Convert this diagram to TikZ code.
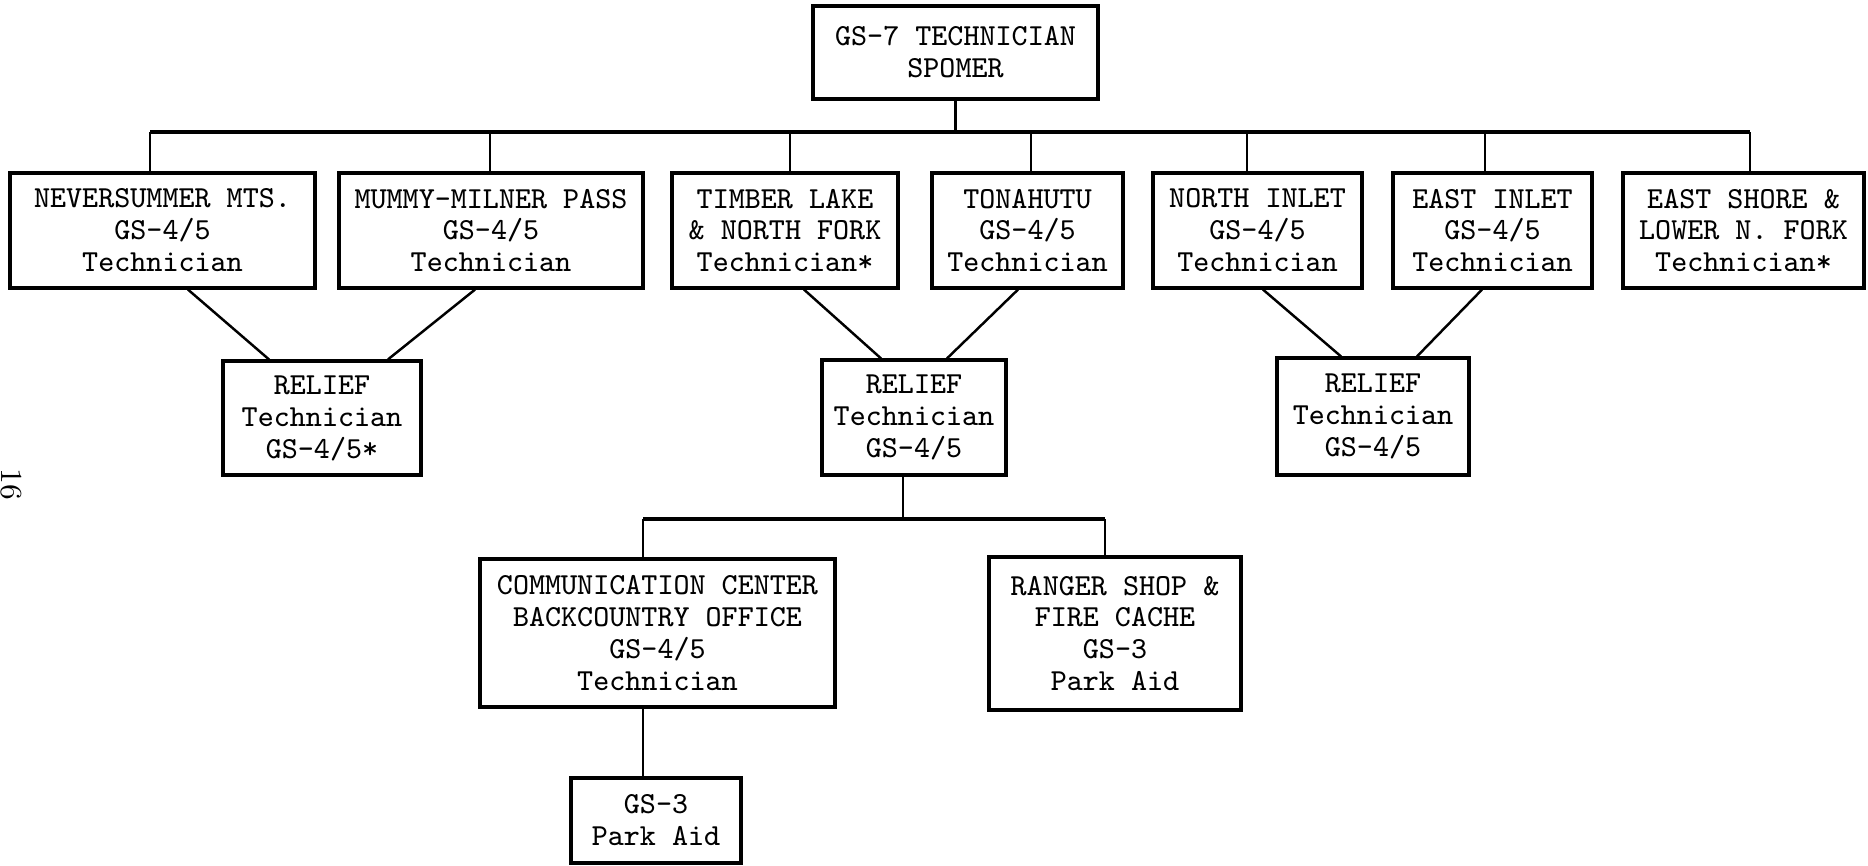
\documentclass[tikz,border=0pt]{standalone}
\usepackage{tikz}

\tikzset{
  post/.style={draw=black, line width=0.9pt, rectangle, inner sep=0pt, align=center,
    font=\ttfamily\fontsize{8.7pt}{9.1pt}\selectfont},
  bus/.style={black, line width=1.1pt},
  tie/.style={black, line width=0.7pt}
}

\begin{document}
\begin{tikzpicture} [scale = 1]
\useasboundingbox (0, 0) rectangle (18.68, 8.65);
\node[post, minimum width=2.85cm, minimum height=0.93cm] (spomer) at (9.555, 8.125){GS-7 TECHNICIAN\\SPOMER};
\node[post, minimum width=3.05cm, minimum height=1.15cm] (nev) at (1.625, 6.345){NEVERSUMMER MTS.\\GS-4/5\\Technician};
\node[post, minimum width=3.04cm, minimum height=1.15cm] (mmp) at (4.91, 6.345){MUMMY-MILNER PASS\\GS-4/5\\Technician};
\node[post, minimum width=2.26cm, minimum height=1.15cm] (tim) at (7.85, 6.345){TIMBER LAKE\\\& NORTH FORK\\Technician*};
\node[post, minimum width=1.91cm, minimum height=1.15cm] (ton) at (10.275, 6.345){TONAHUTU\\GS-4/5\\Technician};
\node[post, minimum width=2.09cm, minimum height=1.15cm] (nin) at (12.575, 6.345){NORTH INLET\\GS-4/5\\Technician};
\node[post, minimum width=1.99cm, minimum height=1.15cm] (ein) at (14.925, 6.345){EAST INLET\\GS-4/5\\Technician};
\node[post, minimum width=2.41cm, minimum height=1.15cm] (esh) at (17.435, 6.345){EAST SHORE \&\\LOWER N. FORK\\Technician*};
\node[post, minimum width=1.98cm, minimum height=1.14cm] (rlfa) at (3.22, 4.47){RELIEF\\Technician\\GS-4/5*};
\node[post, minimum width=1.84cm, minimum height=1.15cm] (rlfb) at (9.14, 4.475){RELIEF\\Technician\\GS-4/5};
\node[post, minimum width=1.92cm, minimum height=1.17cm] (rlfc) at (13.73, 4.485){RELIEF\\Technician\\GS-4/5};
\node[post, minimum width=3.55cm, minimum height=1.48cm] (comm) at (6.575, 2.32){COMMUNICATION CENTER\\BACKCOUNTRY OFFICE\\GS-4/5\\Technician};
\node[post, minimum width=2.52cm, minimum height=1.53cm] (shop) at (11.15, 2.315){RANGER SHOP \&\\FIRE CACHE\\GS-3\\Park Aid};
\node[post, minimum width=1.70cm, minimum height=0.85cm] (aid) at (6.56, 0.445){GS-3\\Park Aid};
\node[rotate=-90, inner sep=0pt, font=\fontsize{8.7pt}{9.1pt}\selectfont] (pgno) at (0.11, 3.81){16};
\coordinate (t1) at (1.50, 7.33);
\coordinate (t2) at (4.90, 7.33);
\coordinate (t3) at (7.90, 7.33);
\coordinate (t4) at (10.31, 7.33);
\coordinate (t5) at (12.47, 7.33);
\coordinate (t6) at (14.85, 7.33);
\coordinate (t7) at (17.50, 7.33);
\coordinate (ua) at (6.43, 3.46);
\coordinate (uc) at (9.03, 3.46);
\coordinate (ub) at (11.05, 3.46);
\draw[bus] (t1) -- (t7);
\draw[tie] (spomer.south) -- (spomer.south |- t1);
\foreach \b/\t in {nev/t1, mmp/t2, tim/t3, ton/t4, nin/t5, ein/t6, esh/t7}
  \draw[tie] (\t) -- (\t |- \b.north);
\draw[tie] ([xshift=2.55mm]nev.south) -- ([xshift=-5.3mm]rlfa.north);
\draw[tie] ([xshift=-1.6mm]mmp.south) -- ([xshift=6.6mm]rlfa.north);
\draw[tie] ([xshift=1.9mm]tim.south) -- ([xshift=-3.3mm]rlfb.north);
\draw[tie] ([xshift=-0.95mm]ton.south) -- ([xshift=3.3mm]rlfb.north);
\draw[tie] ([xshift=0.55mm]nin.south) -- ([xshift=-3.2mm]rlfc.north);
\draw[tie] ([xshift=-1.05mm]ein.south) -- ([xshift=4.4mm]rlfc.north);
\draw[bus] (ua) -- (ub);
\draw[tie] (uc) -- (uc |- rlfb.south);
\draw[tie] (ua) -- (ua |- comm.north);
\draw[tie] (ub) -- (ub |- shop.north);
\draw[tie] (ua |- comm.south) -- (ua |- aid.north);
\end{tikzpicture}
\end{document}
